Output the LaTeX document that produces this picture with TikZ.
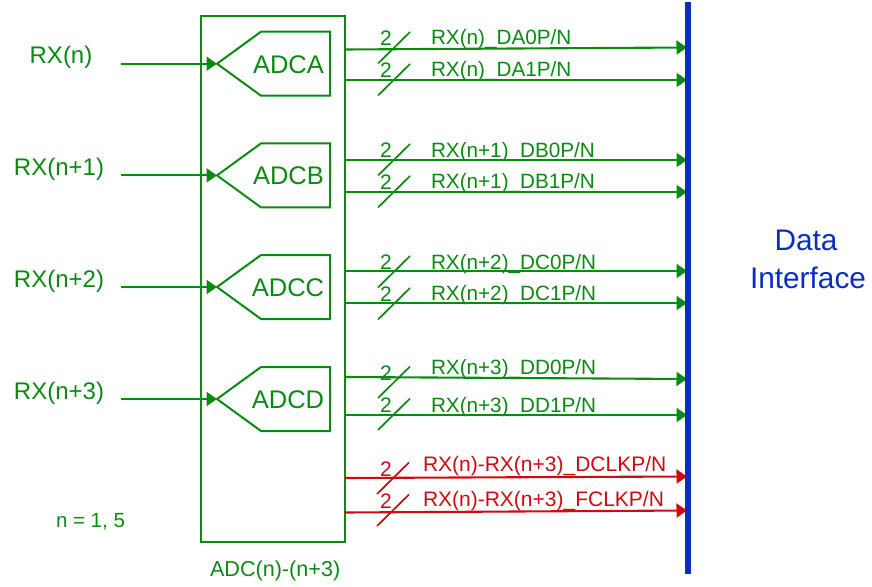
\documentclass[tikz,border=0pt]{standalone}
\usepackage{fontspec}
\setmainfont{Liberation Sans}
\usetikzlibrary{arrows.meta}
\definecolor{grn}{HTML}{0B8A12}
\definecolor{redc}{HTML}{CC0A10}
\definecolor{blu}{HTML}{0A2DBE}
\tikzset{
  wire/.style={line width=2.1pt,-{Triangle[length=10.5pt,width=14pt]}},
  thin shape/.style={draw=grn,line width=2pt,line join=miter},
  slash/.style={line width=1.7pt},
  lbl/.style={anchor=base west,inner sep=0pt,outer sep=0pt,font=\fontsize{20.7}{24}\selectfont},
  two/.style={anchor=base,inner sep=0pt,outer sep=0pt,font=\fontsize{21}{24}\selectfont},
  inlbl/.style={anchor=base,inner sep=0pt,outer sep=0pt,text=grn,font=\fontsize{24}{28}\selectfont},
  adclbl/.style={anchor=base,inner sep=0pt,outer sep=0pt,text=grn,font=\fontsize{25.5}{28}\selectfont},
}
% #1 name, #2 colour, #3 start y, #4 end y, #5 label, #6 label x, #7 label baseline, #8 slash bottom y, #9 slash x shift
\newcommand{\busrow}[9]{%
  \coordinate (#1s) at (344.5,#3);
  \coordinate (#1e) at (687,#4);
  \coordinate (#1a) at (378+#9,#8);
  \coordinate (#1b) at (410+#9,#8-31.5);
  \draw[wire,#2] (#1s) -- (#1e);
  \draw[slash,#2] (#1a) -- (#1b);
  \node[two,text=#2] (#1two) at (386,#8-18) {2};
  \node[lbl,text=#2] (#1lab) at (#6,#7) {#5};
}
% #1 name, #2 input text, #3 input text x, #4 centre y, #5 adc text, #6 adc text x
\newcommand{\adcrow}[6]{%
  \coordinate (#1in) at (121,#4);
  \coordinate (#1tip) at (217,#4);
  \node[inlbl] (#1txt) at (#3,#4) {#2};
  \draw[thin shape] (#1tip) -- (261,#4-32) -- (330,#4-32) -- (330,#4+32) -- (261,#4+32) -- cycle;
  \draw[wire,grn] (#1in) -- (#1tip);
  \node[adclbl] (#1adc) at (#6,#4+9.5) {#5};
}
\newcommand{\redsize}{\fontsize{21}{24}\selectfont}
\begin{document}
\begin{tikzpicture}[x=1pt,y=-1pt]
\useasboundingbox (0,0) rectangle (872,586);
\node[draw=grn,line width=2pt,minimum width=144pt,minimum height=526pt,inner sep=0pt,outer sep=0pt] (box) at (272.5,279) {};
\adcrow{A}{RX(n)}{61}{63.7}{ADCA}{288.5}
\adcrow{B}{RX(n+1)}{59}{175.4}{ADCB}{288.5}
\adcrow{C}{RX(n+2)}{59}{287}{ADCC}{288}
\adcrow{D}{RX(n+3)}{59}{399}{ADCD}{288}
\busrow{a}{grn}{49.5}{47.5}{RX(n)\_DA0P/N}{431}{45}{63.5}{0}
\busrow{b}{grn}{80}{80}{RX(n)\_DA1P/N}{431}{76.5}{95.5}{0}
\busrow{c}{grn}{160}{160}{RX(n+1)\_DB0P/N}{431}{157}{175.5}{0}
\busrow{d}{grn}{192}{192}{RX(n+1)\_DB1P/N}{431}{188}{207.5}{0}
\busrow{e}{grn}{271}{271}{RX(n+2)\_DC0P/N}{431}{269}{287.5}{0}
\busrow{f}{grn}{303}{303}{RX(n+2)\_DC1P/N}{431}{300}{319.5}{0}
\busrow{g}{grn}{377}{379}{RX(n+3)\_DD0P/N}{431}{374}{398}{0}
\busrow{h}{grn}{415}{415}{RX(n+3)\_DD1P/N}{431}{412.5}{430}{0}
\busrow{i}{redc}{478}{476.5}{\redsize RX(n)-RX(n+3)\_DCLKP/N}{423}{471}{494}{-1}
\busrow{j}{redc}{512.5}{510.5}{\redsize RX(n)-RX(n+3)\_FCLKP/N}{423}{506}{526}{-1}
\coordinate (bart) at (688,2);
\coordinate (barb) at (688,574);
\draw[blu,line width=6pt] (bart) -- (barb);
\node[inner sep=0pt,outer sep=0pt,anchor=base west,text=grn,font=\fontsize{20.5}{24}\selectfont] (nval) at (56,527) {n = 1, 5};
\node[inner sep=0pt,outer sep=0pt,anchor=base west,text=grn,font=\fontsize{21.6}{24}\selectfont] (adcn) at (210,576) {ADC(n)-(n+3)};
\node[inner sep=0pt,outer sep=0pt,anchor=base,text=blu,font=\fontsize{29.8}{34}\selectfont] (data) at (806,250) {Data};
\node[inner sep=0pt,outer sep=0pt,anchor=base,text=blu,font=\fontsize{29.8}{34}\selectfont] (intf) at (808,288) {Interface};
\end{tikzpicture}
\end{document}
